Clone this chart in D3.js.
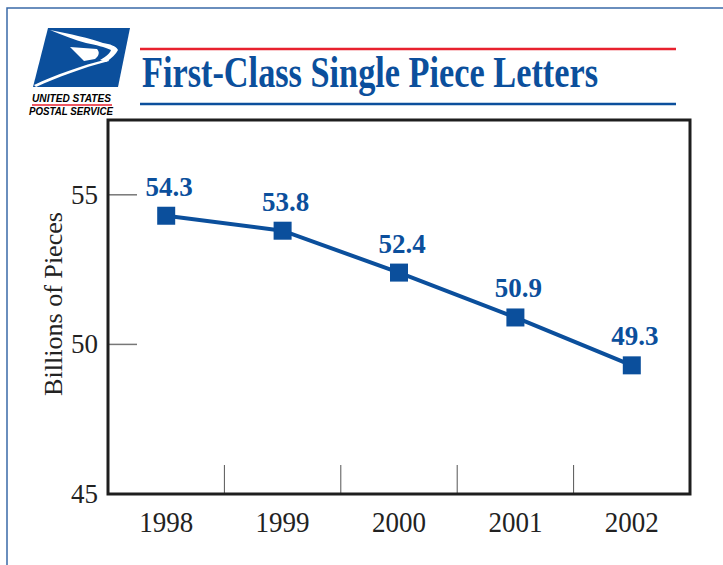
<!DOCTYPE html>
<html>
<head>
<meta charset="utf-8">
<script src="https://cdn.jsdelivr.net/npm/d3@7"></script>
<style>
  body { margin: 0; background: #fff; }
  svg { display: block; }
</style>
</head>
<body>
<svg width="723" height="565"></svg>
<script>
const years = ['1998', '1999', '2000', '2001', '2002'];
const pieces = [54.3, 53.8, 52.4, 50.9, 49.3];
const yTicks = [45, 50, 55];

const blue = '#0b4f9c';

var margin = {left: 108, right: 690, top: 120, bottom: 494};

var svg = d3.select('svg');

// outer page border
svg.append('path')
    .attr('d', 'M7,565 L7,8 L723,8')
    .attr('fill', 'none')
    .attr('stroke', '#3a6aa8')
    .attr('stroke-width', 1.5);

// logo
var logo = svg.append('g');
logo.append('path')
    .attr('d', 'M48,28 L130,28 L118,87 L33,87 Z')
    .attr('fill', blue);
logo.append('path')
    .attr('d', 'M50,30 C70,34 90,38 103,43 C110,44 116,46 118,50 C116,54 112,58 106,62 L100,60 C106,57 110,53 111,50 C105,47 96,45 86,43 C75,40 62,35 50,30 Z')
    .attr('fill', '#fff');
logo.append('path')
    .attr('d', 'M70,47 L97,49 C100,52 99,56 95,59 L84,61 Z')
    .attr('fill', '#fff');
logo.append('path')
    .attr('d', 'M34,85 C55,75 80,66 108,59 L109,61 C82,68 58,77 36,87 Z')
    .attr('fill', '#fff');
logo.append('text')
    .attr('x', 32).attr('y', 102)
    .attr('font-family', 'Liberation Sans, Arial, sans-serif')
    .attr('font-weight', 'bold').attr('font-style', 'italic')
    .attr('font-size', 11)
    .attr('textLength', 79).attr('lengthAdjust', 'spacingAndGlyphs')
    .text('UNITED STATES');
logo.append('line')
    .attr('x1', 32).attr('x2', 112).attr('y1', 105).attr('y2', 105)
    .attr('stroke', '#e8212e').attr('stroke-width', 1.5);
logo.append('text')
    .attr('x', 29).attr('y', 115)
    .attr('font-family', 'Liberation Sans, Arial, sans-serif')
    .attr('font-weight', 'bold').attr('font-style', 'italic')
    .attr('font-size', 10)
    .attr('textLength', 84).attr('lengthAdjust', 'spacingAndGlyphs')
    .text('POSTAL SERVICE');

// title with rules
svg.append('line')
    .attr('x1', 140).attr('x2', 676).attr('y1', 49).attr('y2', 49)
    .attr('stroke', '#e8212e').attr('stroke-width', 2.5);
svg.append('line')
    .attr('x1', 140).attr('x2', 676).attr('y1', 104).attr('y2', 104)
    .attr('stroke', blue).attr('stroke-width', 2.5);
var title = svg.append('text')
    .attr('x', 0).attr('y', 0)
    .attr('font-family', 'Liberation Serif, Times New Roman, serif')
    .attr('font-weight', 'bold')
    .attr('font-size', 45)
    .attr('fill', blue)
    .text('First-Class Single Piece Letters');
// squeeze to the condensed width of the original
var tw = title.node().getComputedTextLength();
title.attr('transform', `translate(142,87) scale(${456 / tw},1)`);

// scales
var x = d3.scaleBand()
    .domain(years)
    .range([margin.left, margin.right]);

var y = d3.scaleLinear()
    .domain([45, 57.5])
    .range([margin.bottom, margin.top]);

// y ticks
svg.append('g').selectAll('line')
    .data(yTicks.filter(d => d > 45)).enter().append('line')
    .attr('x1', margin.left).attr('x2', margin.left + 29)
    .attr('y1', d => y(d)).attr('y2', d => y(d))
    .attr('stroke', '#777').attr('stroke-width', 1.5);

svg.append('g').selectAll('text')
    .data(yTicks).enter().append('text')
    .attr('x', margin.left - 10)
    .attr('y', d => y(d) + 9)
    .attr('text-anchor', 'end')
    .attr('font-family', 'Liberation Serif, Times New Roman, serif')
    .attr('font-size', 27)
    .attr('fill', '#222')
    .text(d => d);

// category separators
svg.append('g').selectAll('line')
    .data(years.slice(1)).enter().append('line')
    .attr('x1', d => x(d)).attr('x2', d => x(d))
    .attr('y1', margin.bottom - 29).attr('y2', margin.bottom)
    .attr('stroke', '#555').attr('stroke-width', 1);

// x labels
svg.append('g').selectAll('text')
    .data(years).enter().append('text')
    .attr('x', d => x(d) + x.bandwidth() / 2)
    .attr('y', 532)
    .attr('text-anchor', 'middle')
    .attr('font-family', 'Liberation Serif, Times New Roman, serif')
    .attr('font-size', 29)
    .attr('fill', '#222')
    .attr('textLength', 54).attr('lengthAdjust', 'spacingAndGlyphs')
    .text(d => d);

// frame
svg.append('rect')
    .attr('x', margin.left).attr('y', margin.top)
    .attr('width', margin.right - margin.left)
    .attr('height', margin.bottom - margin.top)
    .attr('fill', 'none')
    .attr('stroke', '#1e1e1e')
    .attr('stroke-width', 3);

// y axis title
svg.append('text')
    .attr('transform', `translate(62,304) rotate(-90)`)
    .attr('text-anchor', 'middle')
    .attr('font-family', 'Liberation Serif, Times New Roman, serif')
    .attr('font-size', 26)
    .attr('fill', '#222')
    .attr('textLength', 184).attr('lengthAdjust', 'spacingAndGlyphs')
    .text('Billions of Pieces');

// series
var pts = years.map((d, i) => [x(d) + x.bandwidth() / 2, y(pieces[i]), pieces[i]]);

svg.append('path')
    .datum(pts)
    .attr('d', d3.line())
    .attr('fill', 'none')
    .attr('stroke', blue)
    .attr('stroke-width', 4);

svg.append('g').selectAll('rect')
    .data(pts).enter().append('rect')
    .attr('x', d => d[0] - 9).attr('y', d => d[1] - 9)
    .attr('width', 18).attr('height', 18)
    .attr('fill', blue);

svg.append('g').selectAll('text')
    .data(pts).enter().append('text')
    .attr('x', d => d[0] + 3)
    .attr('y', d => d[1] - 20)
    .attr('text-anchor', 'middle')
    .attr('font-family', 'Liberation Serif, Times New Roman, serif')
    .attr('font-weight', 'bold')
    .attr('font-size', 27)
    .attr('fill', blue)
    .text(d => d[2].toFixed(1));
</script>
</body>
</html>
